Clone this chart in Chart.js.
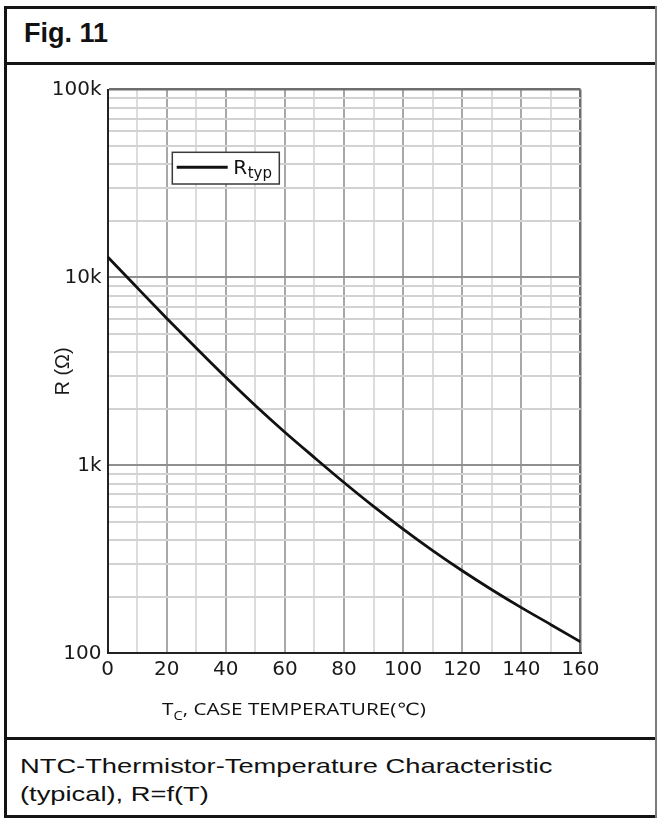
<!DOCTYPE html>
<html>
<head>
<meta charset="utf-8">
<title>Fig. 11</title>
<script src="https://cdn.jsdelivr.net/npm/chart.js@4.4.1/dist/chart.umd.min.js"></script>
<style>
html,body{margin:0;padding:0;background:#fff;}
#page{position:relative;width:657px;height:818px;overflow:hidden;background:#fff;}
.rule{position:absolute;background:#141414;z-index:3;}
#fig{position:absolute;left:24px;top:20.4px;font:bold 27px/27px "Liberation Sans",Arial,sans-serif;color:#111;white-space:nowrap;}
#xtitle{position:absolute;left:161.5px;top:700px;font:17px/17px "Open Sans","DejaVu Sans",sans-serif;color:#111;white-space:nowrap;transform:scaleX(1.22);transform-origin:0 0;}
#xtitle sub{font-size:12px;vertical-align:-5px;line-height:0;}
#caption{position:absolute;left:19.6px;top:751.9px;font:21px/28.3px "Liberation Sans",Arial,sans-serif;color:#111;white-space:nowrap;transform:scaleX(1.3);transform-origin:0 0;}
#chartbox{position:absolute;left:0;top:66px;width:657px;height:671px;}
</style>
</head>
<body>
<div id="page">
  <div class="rule" style="left:4px;top:6px;width:653px;height:3px"></div>
  <div class="rule" style="left:4px;top:6px;width:3px;height:812px"></div>
  <div class="rule" style="left:4px;top:62px;width:653px;height:3px"></div>
  <div class="rule" style="left:4px;top:737px;width:653px;height:3px"></div>
  <div class="rule" style="left:4px;top:815px;width:653px;height:3px"></div>
  <div class="rule" style="left:655px;top:6px;width:2px;height:812px;background:#7a7a7a"></div>
  <div id="fig">Fig. 11</div>
  <div id="chartbox"><canvas id="c" width="657" height="671"></canvas></div>
  <div id="xtitle">T<sub>C</sub>, CASE TEMPERATURE(℃)</div>
  <div id="caption">NTC-Thermistor-Temperature Characteristic<br>(typical), R=f(T)</div>
</div>
<script>
// ---- data ----
const temperatures = [0, 10, 20, 30, 40, 50, 60, 70, 80, 90, 100, 110, 120, 130, 140, 150, 160];
const resistanceTyp = [12900, 8830, 6070, 4210, 2940, 2080, 1500, 1100, 811, 605, 458, 352, 275, 218, 175, 142, 115];
const seriesName = 'R';
const seriesSub = 'typ';
const yAxisTitle = 'R (Ω)';

const xGridValues = [0, 10, 20, 30, 40, 50, 60, 70, 80, 90, 100, 110, 120, 130, 140, 150, 160];
const xLabelValues = [0, 20, 40, 60, 80, 100, 120, 140, 160];
const xLabelTexts = ['0', '20', '40', '60', '80', '100', '120', '140', '160'];

const yGridValues = [100, 200, 300, 400, 500, 600, 700, 800, 900,
                     1000, 2000, 3000, 4000, 5000, 6000, 7000, 8000, 9000,
                     10000, 20000, 30000, 40000, 50000, 60000, 70000, 80000, 90000, 100000];
const yLabelValues = [100, 1000, 10000, 100000];
const yLabelTexts = ['100', '1k', '10k', '100k'];

const xMin = 0, xMax = 160, yMin = 100, yMax = 100000;

// ---- chart ----
const points = temperatures.map((t, i) => ({x: t, y: resistanceTyp[i]}));
const isDecade = v => Math.abs(Math.log10(v) - Math.round(Math.log10(v))) < 1e-9;
const tickFont = {family: '"DejaVu Sans", sans-serif', size: 20};

const legendPlugin = {
  id: 'rtypLegend',
  afterDraw(chart, args, o) {
    const {ctx, chartArea: a} = chart;
    const x = a.left + o.offsetX, y = a.top + o.offsetY, w = o.width, h = o.height;
    ctx.save();
    ctx.fillStyle = '#fff';
    ctx.fillRect(x, y, w, h);
    ctx.strokeStyle = '#3a3a3a';
    ctx.lineWidth = 1.5;
    ctx.strokeRect(x, y, w, h);
    ctx.strokeStyle = '#111';
    ctx.lineWidth = 3;
    ctx.beginPath();
    ctx.moveTo(x + 4.4, y + 15);
    ctx.lineTo(x + 55.4, y + 15);
    ctx.stroke();
    ctx.fillStyle = '#111';
    ctx.textBaseline = 'alphabetic';
    ctx.textAlign = 'left';
    ctx.font = '20px "DejaVu Sans"';
    ctx.fillText(seriesName, x + 61, y + 21.7);
    const rw = ctx.measureText(seriesName).width;
    ctx.font = '15px "DejaVu Sans"';
    ctx.fillText(seriesSub, x + 61 + rw + 0.5, y + 26);
    ctx.restore();
  }
};

new Chart(document.getElementById('c'), {
  type: 'line',
  data: {
    datasets: [{
      label: seriesName + seriesSub,
      data: points,
      borderColor: '#111',
      borderWidth: 2.8,
      pointRadius: 0,
      fill: false,
      cubicInterpolationMode: 'monotone'
    }]
  },
  options: {
    responsive: false,
    animation: false,
    devicePixelRatio: 1,
    layout: {padding: {left: 0, right: 76.5, top: 23.5, bottom: 0}},
    plugins: {
      legend: {display: false},
      tooltip: {enabled: false},
      rtypLegend: {offsetX: 64.8, offsetY: 62.8, width: 107, height: 31.7}
    },
    scales: {
      x: {
        type: 'linear',
        min: xMin, max: xMax,
        afterBuildTicks: s => { s.ticks = xGridValues.map(v => ({value: v})); },
        afterFit: s => { s.height = 83.7; },
        ticks: {
          autoSkip: false, maxRotation: 0, minRotation: 0, padding: 4,
          color: '#1a1a1a', font: tickFont,
          callback: v => { const i = xLabelValues.indexOf(v); return i >= 0 ? xLabelTexts[i] : ''; }
        },
        grid: {
          drawTicks: false,
          lineWidth: c => (c.tick && c.tick.value === xMax) ? 2.5 : 2,
          color: c => {
            const v = c.tick ? c.tick.value : 0;
            if (v === xMax) return '#6e6e6e';
            return xLabelValues.indexOf(v) >= 0 ? '#a8a8a8' : '#dcdcdc';
          }
        },
        border: {color: '#222', width: 2}
      },
      y: {
        type: 'logarithmic',
        min: yMin, max: yMax,
        afterBuildTicks: s => { s.ticks = yGridValues.map(v => ({value: v})); },
        afterFit: s => { s.width = 107.5; },
        ticks: {
          autoSkip: false, padding: 6, color: '#1a1a1a', font: tickFont,
          callback: v => { const i = yLabelValues.indexOf(v); return i >= 0 ? yLabelTexts[i] : ''; }
        },
        title: {
          display: true, text: yAxisTitle, color: '#1a1a1a',
          font: {family: '"Liberation Sans", Arial, sans-serif', size: 20},
          padding: {top: 51, bottom: 0}
        },
        grid: {
          drawTicks: false,
          lineWidth: c => (c.tick && c.tick.value === yMax) ? 2.5 : 2,
          color: c => {
            const v = c.tick ? c.tick.value : yMin;
            if (v === yMax) return '#6e6e6e';
            return isDecade(v) ? '#8f8f8f' : '#d2d2d2';
          }
        },
        border: {color: '#222', width: 2}
      }
    }
  },
  plugins: [legendPlugin]
});
</script>
</body>
</html>
